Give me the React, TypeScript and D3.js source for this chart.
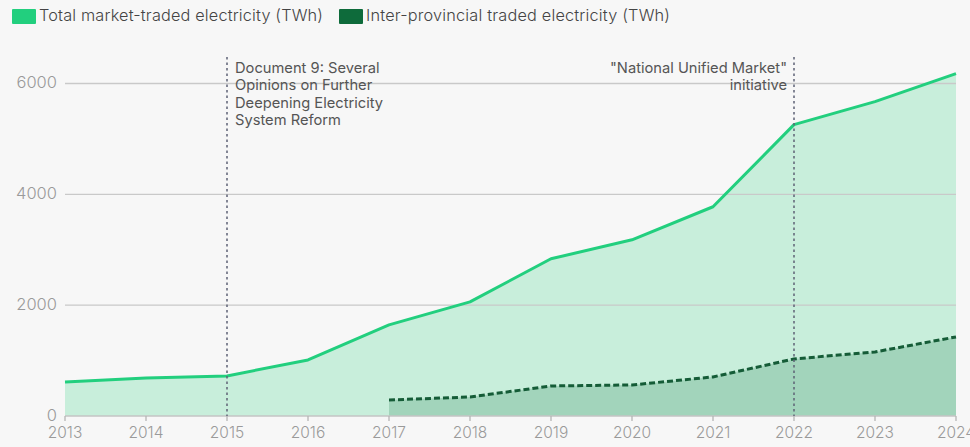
import React from "react";
import * as d3 from "d3";

const years = [2013, 2014, 2015, 2016, 2017, 2018, 2019, 2020, 2021, 2022, 2023, 2024];
const totalTraded = [614, 686, 723, 1012, 1644, 2060, 2837, 3180, 3776, 5257, 5673, 6178];
const interYears = [2017, 2018, 2019, 2020, 2021, 2022, 2023, 2024];
const interTraded = [289, 343, 542, 560, 705, 1030, 1156, 1427];
const yTicks = [0, 2000, 4000, 6000];
const legendLabels = ["Total market-traded electricity (TWh)", "Inter-provincial traded electricity (TWh)"];
const annotations = [
  { year: 2015, lines: ["Document 9: Several", "Opinions on Further", "Deepening Electricity", "System Reform"], anchor: "start" },
  { year: 2022, lines: ["\"National Unified Market\"", "initiative"], anchor: "end" },
];

const W = 970;
const H = 447;
const FONT = "Inter, 'Noto Sans', sans-serif";

export default function App() {
  const x = d3.scaleLinear().domain([2013, 2024]).range([65, 956]);
  const y = d3.scaleLinear().domain([0, 6000]).range([416, 83.5]);

  const totalData = years.map((yr, i) => ({ yr, v: totalTraded[i] }));
  const interData = interYears.map((yr, i) => ({ yr, v: interTraded[i] }));

  const area = d3.area<{ yr: number; v: number }>().x(d => x(d.yr)).y0(y(0)).y1(d => y(d.v));
  const line = d3.line<{ yr: number; v: number }>().x(d => x(d.yr)).y(d => y(d.v));

  return (
    <div style={{ position: "fixed", left: 0, top: 0, width: W, height: H }}>
      <svg width={W} height={H} style={{ display: "block", background: "#f7f7f7" }} fontFamily={FONT}>
        {/* legend */}
        <rect x={12} y={9} width={24} height={15} fill="#22cf7e" rx={1} />
        <text x={39} y={16.5} dominantBaseline="middle" fontSize={16.3} fill="#444" fontWeight={300}
          textLength={284} lengthAdjust="spacing">{legendLabels[0]}</text>
        <rect x={339} y={9} width={24} height={15} fill="#0e6b3b" rx={1} />
        <text x={366} y={16.5} dominantBaseline="middle" fontSize={16.3} fill="#444" fontWeight={300}
          textLength={304} lengthAdjust="spacing">{legendLabels[1]}</text>

        {/* areas */}
        <path d={area(totalData) || ""} fill="#c8eedb" />
        <path d={area(interData) || ""} fill="#a2d4bb" />

        {/* gridlines */}
        {yTicks.map(t => (
          <g key={t}>
            {t > 0 && <line x1={65} x2={956} y1={y(t)} y2={y(t)} stroke="#c9c9c9" strokeWidth={1.3} />}
            <text x={57} y={y(t)} textAnchor="end" dominantBaseline="middle" fontSize={16.5} fill="#9a9a9a" fontWeight={300}>{t}</text>
          </g>
        ))}

        {/* x axis */}
        <line x1={65} x2={956} y1={y(0)} y2={y(0)} stroke="#c4c4c4" strokeWidth={1.3} />
        {years.map(yr => (
          <g key={yr}>
            <line x1={x(yr)} x2={x(yr)} y1={y(0)} y2={y(0) + 5} stroke="#b5b5b5" strokeWidth={1.3} />
            <text x={x(yr)} y={434} textAnchor="middle" dominantBaseline="middle" fontSize={15.5} fill="#9a9a9a" fontWeight={300}>{yr}</text>
          </g>
        ))}

        {/* lines */}
        <path d={line(totalData) || ""} fill="none" stroke="#22cf7e" strokeWidth={3} strokeLinejoin="round" />
        <path d={line(interData) || ""} fill="none" stroke="#155c37" strokeWidth={3} strokeDasharray="6 3" />

        {/* annotations */}
        {annotations.map(a => (
          <g key={a.year}>
            <line x1={x(a.year)} x2={x(a.year)} y1={57} y2={y(0)} stroke="#5e6276" strokeWidth={1.5} strokeDasharray="2.5 3" />
            {a.lines.map((l, i) => (
              <text key={i} x={a.anchor === "start" ? x(a.year) + 8 : x(a.year) - 7} y={69 + i * 17.3}
                textAnchor={a.anchor as any} dominantBaseline="middle" fontSize={14.7} fill="#555">{l}</text>
            ))}
          </g>
        ))}
      </svg>
    </div>
  );
}
